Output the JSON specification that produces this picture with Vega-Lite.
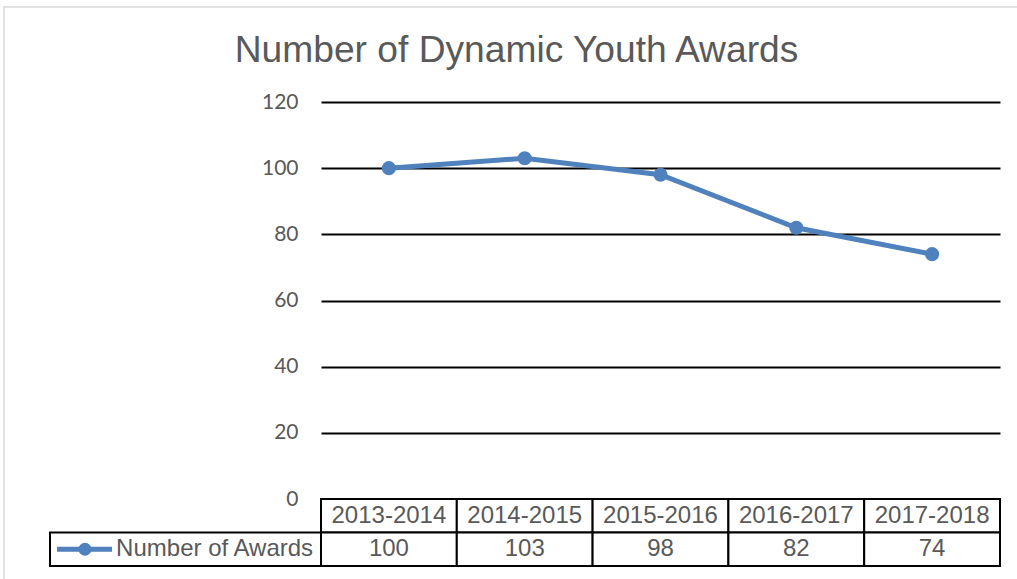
{
  "$schema": "https://vega.github.io/schema/vega-lite/v6.json",
  "width": 679,
  "height": 397,
  "autosize": {"type": "none"},
  "padding": {"left": 321, "top": 102, "right": 17, "bottom": 80},
  "background": "white",
  "config": {"view": {"stroke": null}, "font": "Liberation Sans"},
  "title": {
    "text": "Number of Dynamic Youth Awards",
    "font": "Liberation Sans",
    "fontSize": 37.2,
    "fontWeight": "normal",
    "color": "#595959",
    "anchor": "middle",
    "frame": "group",
    "dx": -144,
    "baseline": "alphabetic",
    "offset": -93
  },
  "data": {
    "values": [
      {"period": "2013-2014", "awards": 100},
      {"period": "2014-2015", "awards": 103},
      {"period": "2015-2016", "awards": 98},
      {"period": "2016-2017", "awards": 82},
      {"period": "2017-2018", "awards": 74}
    ]
  },
  "layer": [
    {
      "data": {"values": [{}]},
      "mark": {"type": "rect", "fill": null, "stroke": "#d9d9d9", "strokeWidth": 1.5},
      "encoding": {
        "x": {"datum": 0, "type": "quantitative", "scale": {"domain": [0, 1], "range": [-317, 720]}, "axis": null},
        "x2": {"datum": 1},
        "y": {"datum": 0, "type": "quantitative", "scale": {"domain": [0, 1], "range": [-95, 490]}, "axis": null},
        "y2": {"datum": 1}
      }
    },
    {
      "encoding": {
        "x": {"field": "period", "type": "nominal", "sort": null, "scale": {"type": "band", "paddingInner": 0, "paddingOuter": 0}, "axis": null},
        "y": {
          "field": "awards",
          "type": "quantitative",
          "scale": {"domain": [0, 120], "nice": false},
          "axis": {
            "values": [0, 20, 40, 60, 80, 100, 120],
            "grid": true,
            "gridColor": "black",
            "gridWidth": 2,
            "gridOpacity": 1,
            "domain": false,
            "ticks": false,
            "labelPadding": 23,
            "labelFont": "Lato",
            "labelFontSize": 21,
            "labelColor": "#595959",
            "title": null
          }
        }
      },
      "layer": [
        {"mark": {"type": "line", "color": "#4F81BD", "strokeWidth": 5}},
        {"mark": {"type": "point", "filled": true, "opacity": 1, "color": "#4F81BD", "size": 200}}
      ]
    },
    {
      "encoding": {
        "x": {"field": "period", "type": "nominal", "sort": null, "scale": {"type": "band", "paddingInner": 0, "paddingOuter": 0}, "axis": null}
      },
      "layer": [
        {
          "mark": {"type": "rect", "fill": "white", "stroke": "black", "strokeWidth": 2},
          "encoding": {"y": {"datum": "h", "type": "nominal", "scale": {"type": "band", "domain": ["h", "v"], "range": [397, 464], "paddingInner": 0, "paddingOuter": 0}, "axis": null}}
        },
        {
          "mark": {"type": "rect", "fill": "white", "stroke": "black", "strokeWidth": 2},
          "encoding": {"y": {"datum": "v", "type": "nominal", "scale": {"type": "band", "domain": ["h", "v"], "range": [397, 464], "paddingInner": 0, "paddingOuter": 0}, "axis": null}}
        },
        {
          "mark": {"type": "text", "font": "Liberation Sans", "fontSize": 24, "color": "#595959"},
          "encoding": {
            "y": {"datum": "h", "type": "nominal", "scale": {"type": "band", "domain": ["h", "v"], "range": [397, 464], "paddingInner": 0, "paddingOuter": 0}, "axis": null},
            "text": {"field": "period"}
          }
        },
        {
          "mark": {"type": "text", "font": "Liberation Sans", "fontSize": 24, "color": "#595959"},
          "encoding": {
            "y": {"datum": "v", "type": "nominal", "scale": {"type": "band", "domain": ["h", "v"], "range": [397, 464], "paddingInner": 0, "paddingOuter": 0}, "axis": null},
            "text": {"field": "awards"}
          }
        }
      ]
    },
    {
      "data": {"values": [{"series": "Number of Awards"}]},
      "encoding": {
        "y": {"datum": "v", "type": "nominal", "scale": {"type": "band", "domain": ["h", "v"], "range": [397, 464], "paddingInner": 0, "paddingOuter": 0}, "axis": null}
      },
      "layer": [
        {
          "mark": {"type": "rect", "fill": "white", "stroke": "black", "strokeWidth": 2},
          "encoding": {
            "x": {"datum": 0, "type": "quantitative", "scale": {"domain": [0, 1], "range": [-271, 0]}, "axis": null},
            "x2": {"datum": 1}
          }
        },
        {
          "mark": {"type": "rule", "color": "#4F81BD", "strokeWidth": 5},
          "encoding": {
            "x": {"datum": 0.026, "type": "quantitative", "scale": {"domain": [0, 1], "range": [-271, 0]}, "axis": null},
            "x2": {"datum": 0.229}
          }
        },
        {
          "mark": {"type": "point", "filled": true, "opacity": 1, "color": "#4F81BD", "size": 170},
          "encoding": {
            "x": {"datum": 0.129, "type": "quantitative", "scale": {"domain": [0, 1], "range": [-271, 0]}, "axis": null}
          }
        },
        {
          "mark": {"type": "text", "align": "left", "font": "Liberation Sans", "fontSize": 24, "color": "#595959"},
          "encoding": {
            "x": {"datum": 0.244, "type": "quantitative", "scale": {"domain": [0, 1], "range": [-271, 0]}, "axis": null},
            "text": {"field": "series"}
          }
        }
      ]
    }
  ],
  "resolve": {
    "scale": {"x": "independent", "y": "independent"},
    "axis": {"x": "independent", "y": "independent"}
  }
}
